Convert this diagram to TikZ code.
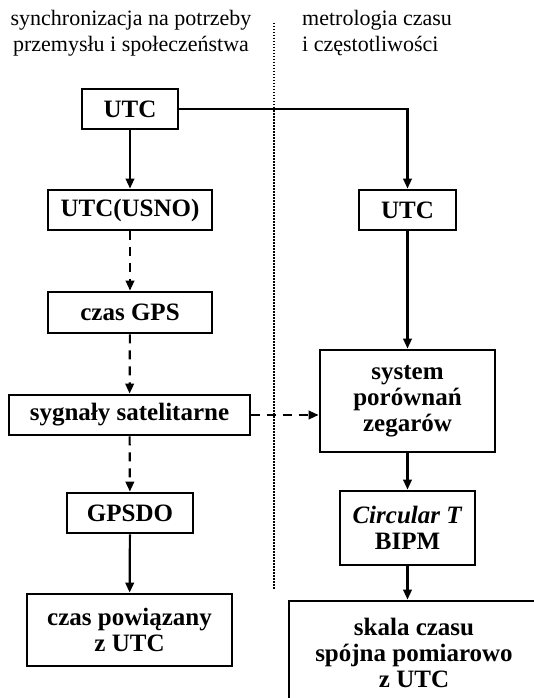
\documentclass[tikz,border=0pt]{standalone}
\usepackage{fontspec}
\setmainfont{Liberation Serif}
\usetikzlibrary{arrows.meta}
\begin{document}
\begin{tikzpicture}[x=1pt,y=-1pt,
  box/.style={draw,line width=2.8pt,rectangle,inner sep=0pt,align=center,
    font=\fontsize{25}{26}\selectfont\bfseries},
  head/.style={font=\fontsize{22}{25.5}\selectfont,inner sep=0pt},
  conn/.style={line width=2.2pt,-{Triangle[length=10pt,width=8.5pt]}},
  dconn/.style={conn,dash pattern=on 9pt off 7pt},
  sep/.style={line width=2pt,dash pattern=on 1.5pt off 1.5pt}]
\useasboundingbox (0,0) rectangle (533,698);
\node[head,align=center] (hl) at (131,33) {synchronizacja na potrzeby\\przemysłu i społeczeństwa};
\node[head,align=left,anchor=west] (hr) at (302,33) {metrologia czasu\\i częstotliwości};
\coordinate (s1) at (274,23);
\coordinate (s2) at (274,590);
\draw[sep] (s1) -- (s2);
\node[box,minimum width=96pt,minimum height=40pt] (utc1) at (130,109) {UTC};
\node[box,minimum width=164pt,minimum height=40pt] (usno) at (130,210) {UTC(USNO)};
\node[box,minimum width=164pt,minimum height=41pt] (gps) at (130,312.5) {czas GPS};
\node[box,minimum width=241pt,minimum height=40pt] (sat) at (129.5,415) {sygnały satelitarne};
\node[box,minimum width=126pt,minimum height=40pt] (gpsdo) at (130,513) {GPSDO};
\node[box,minimum width=205pt,minimum height=72pt] (pow) at (129.5,630) {czas powiązany\\z UTC};
\node[box,minimum width=97pt,minimum height=40pt] (utc2) at (407.5,210) {UTC};
\node[box,minimum width=175pt,minimum height=102pt] (sys) at (407.5,401) {system\\porównań\\zegarów};
\node[box,minimum width=135pt,minimum height=74pt] (circ) at (407.5,528) {\textit{Circular T}\\BIPM};
\node[box,minimum width=250pt,minimum height=104pt] (skala) at (414,653) {skala czasu\\spójna pomiarowo\\z UTC};
\draw[conn] (utc1) -- (usno);
\draw[conn] (utc1.east) -| (utc2.north);
\draw[dconn] (usno) -- (gps);
\draw[dconn] (gps) -- (sat);
\draw[dconn] (sat) -- (gpsdo);
\draw[conn] (gpsdo) -- (pow);
\draw[conn] (utc2) -- (sys);
\draw[dconn] (sat.east) -- (sys.west |- sat.east);
\draw[conn] (sys) -- (circ);
\draw[conn] (circ) -- (circ.south |- skala.north);
\end{tikzpicture}
\end{document}
